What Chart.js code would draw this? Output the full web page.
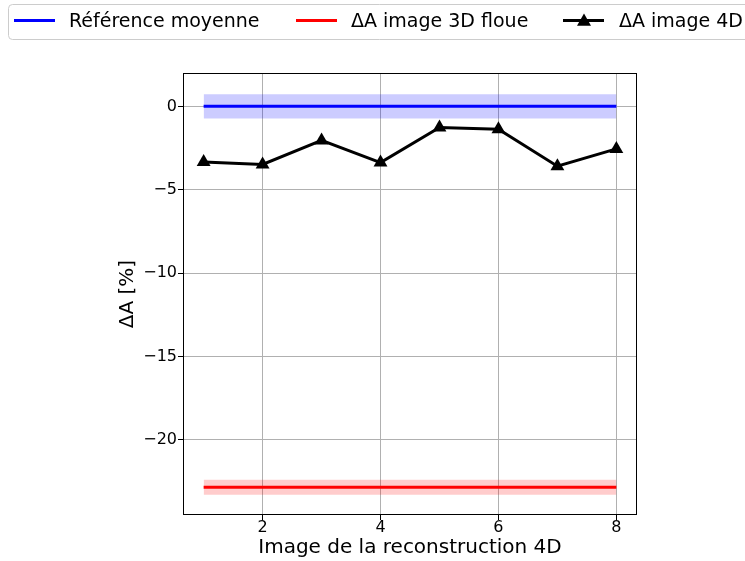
<!DOCTYPE html>
<html lang="fr">
<head>
  <meta charset="UTF-8">
  <title>ΔA image 4D</title>
  <script src="https://cdn.jsdelivr.net/npm/chart.js"></script>
  <style>
    html, body { margin: 0; padding: 0; background: white; }
    #wrap { width: 745px; height: 561px; position: relative; }
  </style>
</head>
<body>
  <div id="wrap"><canvas id="chart" width="745" height="561"></canvas></div>
  <script>
    // data
    const imageIndex = [1, 2, 3, 4, 5, 6, 7, 8];
    const delta4D = [-3.33, -3.48, -2.04, -3.37, -1.27, -1.37, -3.59, -2.55];
    const refMean = [0, 0, 0, 0, 0, 0, 0, 0];
    const refStd = 0.73;
    const blur3D = [-22.83, -22.83, -22.83, -22.83, -22.83, -22.83, -22.83, -22.83];
    const blurStd = 0.45;
    const xTicks = [2, 4, 6, 8];
    const yTicks = [-20, -15, -10, -5, 0];
    const legendLabels = ['Référence moyenne', 'ΔA image 3D floue', 'ΔA image 4D'];

    const font = 'DejaVu Sans';
    const pts = arr => imageIndex.map((x, i) => ({ x: x, y: arr[i] }));
    const shift = (arr, d) => arr.map(v => v + d);
    const minus = v => v < 0 ? '\u2212' + Math.abs(v) : String(v);

    // legend + frame drawn by hand so it can overflow the right edge like the original
    const extras = {
      id: 'extras',
      afterDraw(chart) {
        const ctx = chart.ctx;
        const a = chart.chartArea;
        ctx.save();
        ctx.strokeStyle = '#000';
        ctx.lineWidth = 1;
        ctx.strokeRect(a.left + 0.5, a.top + 0.5, a.right - a.left - 1, a.bottom - a.top - 1);

        // legend box
        ctx.strokeStyle = '#cccccc';
        ctx.fillStyle = 'rgba(255,255,255,0.8)';
        ctx.beginPath();
        ctx.roundRect(8.5, 4.5, 760, 35, 4);
        ctx.fill();
        ctx.stroke();

        const items = [
          { color: '#0000ff', x: 14, tx: 69, tri: false },
          { color: '#ff0000', x: 296, tx: 351, tri: false },
          { color: '#000000', x: 563, tx: 619, tri: true }
        ];
        ctx.font = '19px "' + font + '"';
        ctx.textBaseline = 'middle';
        items.forEach((it, i) => {
          ctx.strokeStyle = it.color;
          ctx.lineWidth = 3;
          ctx.beginPath();
          ctx.moveTo(it.x, 20.5);
          ctx.lineTo(it.x + 41, 20.5);
          ctx.stroke();
          if (it.tri) {
            const cx = it.x + 21, cy = 20.5, r = 7;
            ctx.fillStyle = it.color;
            ctx.beginPath();
            ctx.moveTo(cx, cy - r);
            ctx.lineTo(cx + r, cy + r * 0.75);
            ctx.lineTo(cx - r, cy + r * 0.75);
            ctx.closePath();
            ctx.fill();
          }
          ctx.fillStyle = '#000';
          ctx.fillText(legendLabels[i], it.tx, 22);
        });
        ctx.restore();
      }
    };

    const ctx = document.getElementById('chart').getContext('2d');
    new Chart(ctx, {
      type: 'scatter',
      data: {
        datasets: [
          {
            data: pts(shift(refMean, refStd)),
            showLine: true, borderWidth: 0, pointRadius: 0,
            borderColor: 'rgba(0,0,0,0)'
          },
          {
            data: pts(shift(refMean, -refStd)),
            showLine: true, borderWidth: 0, pointRadius: 0,
            borderColor: 'rgba(0,0,0,0)',
            fill: '-1', backgroundColor: 'rgba(0,0,255,0.2)'
          },
          {
            data: pts(refMean),
            showLine: true, borderWidth: 3, pointRadius: 0,
            borderColor: '#0000ff'
          },
          {
            data: pts(shift(blur3D, blurStd)),
            showLine: true, borderWidth: 0, pointRadius: 0,
            borderColor: 'rgba(0,0,0,0)'
          },
          {
            data: pts(shift(blur3D, -blurStd)),
            showLine: true, borderWidth: 0, pointRadius: 0,
            borderColor: 'rgba(0,0,0,0)',
            fill: '-1', backgroundColor: 'rgba(255,0,0,0.2)'
          },
          {
            data: pts(blur3D),
            showLine: true, borderWidth: 3, pointRadius: 0,
            borderColor: '#ff0000'
          },
          {
            data: pts(delta4D),
            showLine: true, borderWidth: 3,
            borderColor: '#000000', backgroundColor: '#000000',
            pointStyle: 'triangle', pointRadius: 8, pointBorderWidth: 0
          }
        ]
      },
      options: {
        responsive: false,
        animation: false,
        layout: { padding: { left: 108, right: 108, top: 73, bottom: 0 } },
        plugins: {
          legend: { display: false },
          tooltip: { enabled: false }
        },
        scales: {
          x: {
            type: 'linear',
            min: 0.65,
            max: 8.35,
            afterBuildTicks: s => { s.ticks = xTicks.map(v => ({ value: v })); },
            afterFit: s => { s.height = 46; },
            grid: { color: '#b0b0b0', lineWidth: 1, tickColor: '#000', tickLength: 5 },
            border: { display: false },
            ticks: {
              color: '#000', padding: 0,
              font: { family: font, size: 16, lineHeight: 1 },
              callback: v => minus(v)
            },
            title: {
              display: true, text: 'Image de la reconstruction 4D', color: '#000',
              font: { family: font, size: 20 }, padding: { top: 0, bottom: 1 }
            }
          },
          y: {
            min: -24.5,
            max: 2.0,
            afterBuildTicks: s => { s.ticks = yTicks.map(v => ({ value: v })); },
            afterFit: s => { s.width = 75; },
            grid: { color: '#b0b0b0', lineWidth: 1, tickColor: '#000', tickLength: 5 },
            border: { display: false },
            ticks: {
              color: '#000', padding: 1,
              font: { family: font, size: 16, lineHeight: 1 },
              callback: v => minus(v)
            },
            title: {
              display: true, text: 'ΔA [%]', color: '#000',
              font: { family: font, size: 20 }, padding: { top: 8, bottom: 0 }
            }
          }
        }
      },
      plugins: [extras]
    });
  </script>
</body>
</html>
